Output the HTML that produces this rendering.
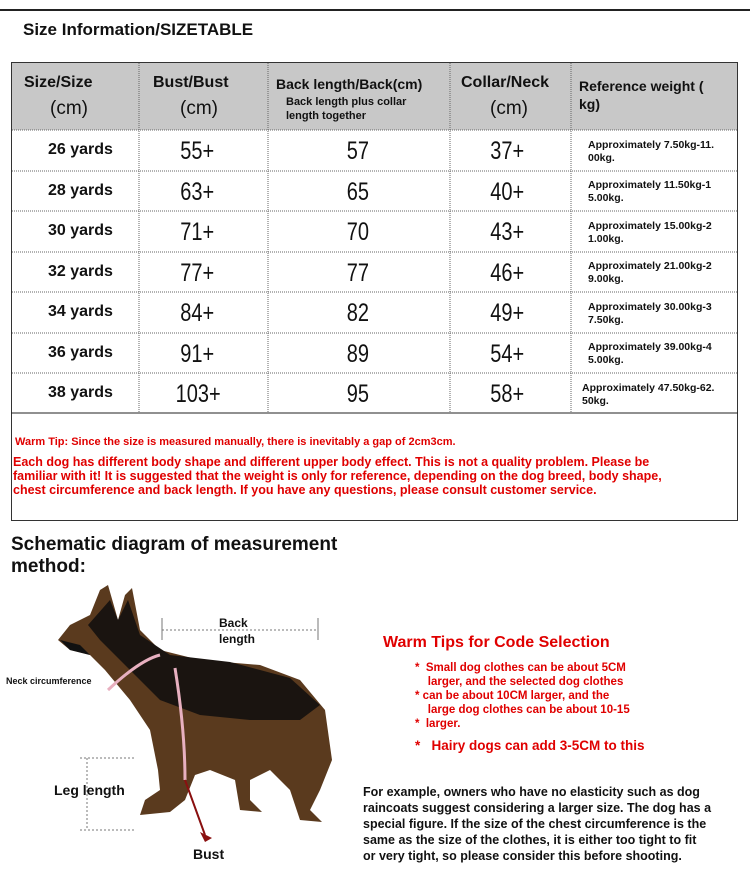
<!DOCTYPE html>
<html><head><meta charset="utf-8"><style>
body{margin:0;width:750px;height:871px;background:#fff;position:relative;overflow:hidden;font-family:"Liberation Sans",sans-serif;}
.a{position:absolute;white-space:nowrap;}
.b{font-weight:bold;}
.hdr{font-weight:bold;font-size:16px;color:#111;}
.num{font-size:25px;transform:scaleX(0.8);transform-origin:center;color:#111;}
.yd{font-weight:bold;font-size:16px;color:#111;}
.w{font-weight:bold;font-size:10.5px;color:#111;line-height:13px;}
.red{color:#e00000;font-weight:bold;}
</style></head><body>
<div class="a" style="left:0;top:9px;width:750px;height:1.5px;background:#222"></div>
<div class="a b" style="left:23px;top:20px;font-size:17px;color:#111">Size Information/SIZETABLE</div>

<div class="a" style="left:11px;top:62px;width:727px;height:459px;border:1px solid #333;box-sizing:border-box"></div>
<div class="a" style="left:12px;top:63px;width:725px;height:67px;background:#c8c8c8"></div>
<svg class="a" style="left:0;top:0" width="750" height="871">
<g stroke="#666" stroke-width="1" stroke-dasharray="1,1">
<line x1="139" y1="63" x2="139" y2="413"/><line x1="268" y1="63" x2="268" y2="413"/>
<line x1="450" y1="63" x2="450" y2="413"/><line x1="571" y1="63" x2="571" y2="413"/>
<line x1="12" y1="130" x2="737" y2="130"/><line x1="12" y1="171" x2="737" y2="171"/>
<line x1="12" y1="211" x2="737" y2="211"/><line x1="12" y1="252" x2="737" y2="252"/>
<line x1="12" y1="292" x2="737" y2="292"/><line x1="12" y1="333" x2="737" y2="333"/>
<line x1="12" y1="373" x2="737" y2="373"/>
</g>
<line x1="11" y1="413" x2="738" y2="413" stroke="#222" stroke-width="1"/>
</svg>
<div class="a hdr" style="left:24px;top:74px">Size/Size</div>
<div class="a hdr" style="left:50px;top:98px;font-size:19px;font-weight:normal">(cm)</div>
<div class="a hdr" style="left:153px;top:74px">Bust/Bust</div>
<div class="a hdr" style="left:180px;top:98px;font-size:19px;font-weight:normal">(cm)</div>
<div class="a hdr" style="left:276px;top:76px;font-size:14px">Back length/Back(cm)</div>
<div class="a b" style="left:286px;top:96px;font-size:11px;color:#111">Back length plus collar</div>
<div class="a b" style="left:286px;top:110px;font-size:11px;color:#111">length together</div>
<div class="a hdr" style="left:461px;top:74px">Collar/Neck</div>
<div class="a hdr" style="left:490px;top:98px;font-size:19px;font-weight:normal">(cm)</div>
<div class="a hdr" style="left:579px;top:78px;font-size:14px">Reference weight (</div>
<div class="a hdr" style="left:579px;top:96px;font-size:14px">kg)</div>

<div class="a yd" style="left:48px;top:141px">26 yards</div>
<div class="a yd" style="left:48px;top:182px">28 yards</div>
<div class="a yd" style="left:48px;top:222px">30 yards</div>
<div class="a yd" style="left:48px;top:263px">32 yards</div>
<div class="a yd" style="left:48px;top:303px">34 yards</div>
<div class="a yd" style="left:48px;top:344px">36 yards</div>
<div class="a yd" style="left:48px;top:384px">38 yards</div>

<div class="a num" style="left:176px;top:137px">55+</div>
<div class="a num" style="left:176px;top:178px">63+</div>
<div class="a num" style="left:176px;top:218px">71+</div>
<div class="a num" style="left:176px;top:259px">77+</div>
<div class="a num" style="left:176px;top:299px">84+</div>
<div class="a num" style="left:176px;top:340px">91+</div>
<div class="a num" style="left:170px;top:380px">103+</div>

<div class="a num" style="left:344px;top:137px">57</div>
<div class="a num" style="left:344px;top:178px">65</div>
<div class="a num" style="left:344px;top:218px">70</div>
<div class="a num" style="left:344px;top:259px">77</div>
<div class="a num" style="left:344px;top:299px">82</div>
<div class="a num" style="left:344px;top:340px">89</div>
<div class="a num" style="left:344px;top:380px">95</div>

<div class="a num" style="left:486px;top:137px">37+</div>
<div class="a num" style="left:486px;top:178px">40+</div>
<div class="a num" style="left:486px;top:218px">43+</div>
<div class="a num" style="left:486px;top:259px">46+</div>
<div class="a num" style="left:486px;top:299px">49+</div>
<div class="a num" style="left:486px;top:340px">54+</div>
<div class="a num" style="left:486px;top:380px">58+</div>

<div class="a w" style="left:588px;top:139px">Approximately 7.50kg-11.<br>00kg.</div>
<div class="a w" style="left:588px;top:179px">Approximately 11.50kg-1<br>5.00kg.</div>
<div class="a w" style="left:588px;top:220px">Approximately 15.00kg-2<br>1.00kg.</div>
<div class="a w" style="left:588px;top:260px">Approximately 21.00kg-2<br>9.00kg.</div>
<div class="a w" style="left:588px;top:301px">Approximately 30.00kg-3<br>7.50kg.</div>
<div class="a w" style="left:588px;top:341px">Approximately 39.00kg-4<br>5.00kg.</div>
<div class="a w" style="left:582px;top:382px">Approximately 47.50kg-62.<br>50kg.</div>

<div class="a red" style="left:15px;top:436px;font-size:11px">Warm Tip: Since the size is measured manually, there is inevitably a gap of 2cm3cm.</div>
<div class="a red" style="left:13px;top:455px;font-size:12.5px;line-height:14px">Each dog has different body shape and different upper body effect. This is not a quality problem. Please be<br>familiar with it! It is suggested that the weight is only for reference, depending on the dog breed, body shape,<br>chest circumference and back length. If you have any questions, please consult customer service.</div>

<div class="a b" style="left:11px;top:534px;font-size:19px;color:#111;line-height:22px">Schematic diagram of measurement<br>method:</div>

<svg class="a" style="left:0;top:0" width="750" height="871">
<path d="M100 590 L108 585 L118 620 L125 595 L132 588 L140 630 L160 650 L200 660 L260 665 L300 680 L325 710 L332 760 L320 790 L310 810 L322 822 L300 820 L290 790 L270 770 L250 780 L250 800 L262 812 L240 810 L235 780 L210 770 L195 775 L185 800 L170 812 L140 815 L145 800 L160 790 L158 770 L150 730 L130 700 L105 670 L90 655 L70 650 L58 640 L70 625 L90 615 Z" fill="#5a3a1e"/>
<path d="M110 600 L118 620 L128 600 L140 635 L170 655 L230 662 L290 678 L320 705 L300 720 L250 720 L200 715 L160 700 L140 680 L120 660 L100 640 L88 625 Z" fill="#1a1410"/>
<path d="M60 640 L70 650 L90 655 L80 645 Z" fill="#111"/>
<line x1="162" y1="630" x2="318" y2="630" stroke="#777" stroke-dasharray="2,2"/>
<line x1="162" y1="618" x2="162" y2="640" stroke="#777"/><line x1="318" y1="618" x2="318" y2="640" stroke="#777"/>
<path d="M108 690 Q140 660 160 655" stroke="#e8b0c0" stroke-width="3" fill="none"/>
<path d="M175 668 Q185 730 185 780" stroke="#e8b0c0" stroke-width="3" fill="none"/>
<line x1="185" y1="780" x2="205" y2="835" stroke="#8a1010" stroke-width="2"/>
<polygon points="200,832 212,838 205,842" fill="#8a1010"/>
<line x1="87" y1="758" x2="87" y2="830" stroke="#777" stroke-dasharray="2,2"/>
<line x1="80" y1="758" x2="135" y2="758" stroke="#777" stroke-dasharray="2,2"/>
<line x1="80" y1="830" x2="135" y2="830" stroke="#777" stroke-dasharray="2,2"/>
</svg>
<div class="a b" style="left:219px;top:615px;font-size:12px;color:#111;line-height:16px">Back<br>length</div>
<div class="a b" style="left:6px;top:676px;font-size:9px;color:#111">Neck circumference</div>
<div class="a b" style="left:54px;top:782px;font-size:14px;color:#111">Leg length</div>
<div class="a b" style="left:193px;top:846px;font-size:14px;color:#111">Bust</div>

<div class="a red" style="left:383px;top:634px;font-size:16px">Warm Tips for Code Selection</div>
<div class="a red" style="left:415px;top:661px;font-size:11.5px;line-height:14px">* &nbsp;Small dog clothes can be about 5CM<br>&nbsp;&nbsp;&nbsp;&nbsp;larger, and the selected dog clothes<br>* can be about 10CM larger, and the<br>&nbsp;&nbsp;&nbsp;&nbsp;large dog clothes can be about 10-15<br>* &nbsp;larger.</div>
<div class="a red" style="left:415px;top:738px;font-size:13.5px">* &nbsp;&nbsp;Hairy dogs can add 3-5CM to this</div>
<div class="a b" style="left:363px;top:784px;font-size:12.5px;color:#111;line-height:16px">For example, owners who have no elasticity such as dog<br>raincoats suggest considering a larger size. The dog has a<br>special figure. If the size of the chest circumference is the<br>same as the size of the clothes, it is either too tight to fit<br>or very tight, so please consider this before shooting.</div>
</body></html>
